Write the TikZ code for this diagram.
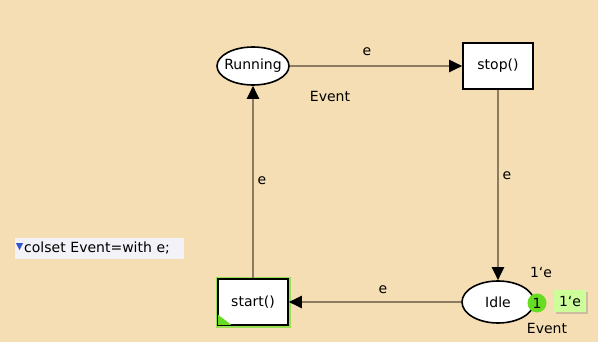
\documentclass[tikz,border=0pt]{standalone}
\usepackage{fontspec}
\setmainfont{DejaVu Sans}
\usetikzlibrary{arrows.meta,shapes.geometric,shadows}
\definecolor{wheat}{HTML}{F5DEB3}
\definecolor{arcgray}{HTML}{8C7B62}
\definecolor{tokgreen}{HTML}{66DD22}
\definecolor{glowgreen}{HTML}{99E055}
\definecolor{marklight}{HTML}{CCFF99}
\definecolor{declbg}{HTML}{F2F2F8}
\definecolor{declblue}{HTML}{3355CC}
\newcommand{\bq}{\symbol{96}}

\begin{document}
\begin{tikzpicture}[x=1pt,y=-1pt,
    every node/.style={font=\fontsize{14}{16}\selectfont},
    place/.style={ellipse,draw=black,line width=1.6pt,fill=white,minimum width=72pt,minimum height=38pt,inner xsep=-7pt,inner ysep=0pt},
    trans/.style={rectangle,draw=black,line width=1.6pt,fill=white,minimum width=70pt,minimum height=46pt,inner sep=0pt},
    arc/.style={arcgray,line width=2pt,-{Triangle[length=13pt,width=12pt,color=black]}},
    lbl/.style={inner sep=0pt}]
        \fill[wheat] (0,0) rectangle (598,342);
        \useasboundingbox (0,0) rectangle (598,353);
        \node[place] (running) at (253,66) {Running};
        \node[trans] (stop) at (498,66) {stop()};
        \node[place,minimum height=42pt] (idle) at (498,302) {Idle};
        \node[trans,preaction={draw=glowgreen,line width=5pt}] (start) at (253,302) {start()};
        \fill[tokgreen] ([shift={(1,-1)}]start.south west) -- ++(0,-10) -- ++(13,10) -- cycle;
        \draw[arc] (running) -- (stop);
        \draw[arc] (stop) -- (idle);
        \draw[arc] (idle) -- (start);
        \draw[arc] (start) -- (running);
        \node[lbl] (e1) at (367,52) {e};
        \node[lbl] (e2) at (507,176) {e};
        \node[lbl] (e3) at (383,290) {e};
        \node[lbl] (e4) at (262,181) {e};
        \node[lbl] (runtype) at (330,96) {Event};
        \node[lbl] (idletype) at (547,328) {Event};
        \node[lbl] (idleinit) at (541,272) {1\bq e};
        \node[circle,fill=tokgreen,minimum size=19pt,inner sep=0pt] (tok) at (537,303) {1};
        \node[fill=marklight,minimum width=32pt,minimum height=22pt,inner sep=1pt,
              drop shadow={shadow xshift=1.5pt,shadow yshift=-1.5pt,opacity=.35}] (mark) at (570,301) {1\bq e};
        \node[fill=declbg,anchor=west,minimum width=169pt,minimum height=21pt,inner sep=0pt,text width=169pt] (decl) at (15,248) {\hspace{9pt}colset Event=with e;};
        \fill[declblue] ([shift={(1,-5)}]decl.west) -- ++(7,0) -- ++(-3.5,7) -- cycle;
    \end{tikzpicture}
\end{document}
